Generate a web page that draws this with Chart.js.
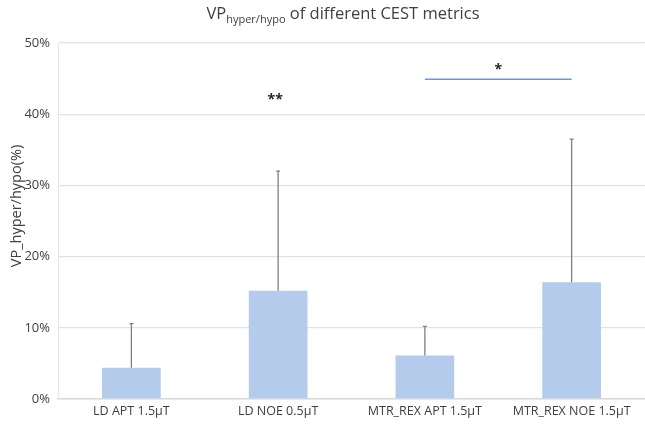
<!DOCTYPE html>
<html><head><meta charset="utf-8">
<script src="https://cdn.jsdelivr.net/npm/chart.js@4"></script>
<style>html,body{margin:0;padding:0;background:#fff}#wrap{width:645px;height:428px}</style>
</head><body><div id="wrap"><canvas id="c" width="645" height="428"></canvas></div>
<script>
const categories = ["LD APT 1.5\u00b5T", "LD NOE 0.5\u00b5T", "MTR_REX APT 1.5\u00b5T", "MTR_REX NOE 1.5\u00b5T"];
const means = [4.4, 15.2, 6.1, 16.4];
const errorUpper = [10.6, 32.0, 10.2, 36.5];
const yTicks = [0, 10, 20, 30, 40, 50];
const sigMarks = [{from: 1, to: 1, y: 42.5, text: "**", line: false}, {from: 2, to: 3, y: 44.9, text: "*", line: true}];

const FONT = "'Open Sans', 'Liberation Sans', sans-serif";

const overlay = {
  id: 'overlay',
  afterDatasetsDraw(chart) {
    const ctx = chart.ctx, x = chart.scales.x, y = chart.scales.y;
    ctx.save();
    // error bars
    ctx.strokeStyle = '#808080'; ctx.lineWidth = 1.3;
    means.forEach((m, i) => {
      const cx = x.getPixelForValue(i);
      const y0 = y.getPixelForValue(m), y1 = y.getPixelForValue(errorUpper[i]);
      ctx.beginPath(); ctx.moveTo(cx, y0); ctx.lineTo(cx, y1);
      ctx.moveTo(cx - 2, y1); ctx.lineTo(cx + 2, y1); ctx.stroke();
    });
    // significance marks
    sigMarks.forEach(s => {
      const xa = x.getPixelForValue(s.from), xb = x.getPixelForValue(s.to);
      const py = y.getPixelForValue(s.y);
      if (s.line) {
        ctx.strokeStyle = '#6f97cf'; ctx.lineWidth = 1.5;
        ctx.beginPath(); ctx.moveTo(xa, py); ctx.lineTo(xb, py); ctx.stroke();
      }
      ctx.fillStyle = '#222'; ctx.font = "bold 14px " + FONT;
      ctx.textAlign = 'center'; ctx.textBaseline = 'alphabetic';
      ctx.fillText(s.text, (xa + xb) / 2 - (s.line ? 0 : 3), s.line ? py - 5 : py + 8);
    });
    ctx.restore();
  },
  afterDraw(chart) {
    const ctx = chart.ctx;
    ctx.save();
    // title with subscript
    ctx.fillStyle = '#404040'; ctx.textBaseline = 'alphabetic';
    const f1 = "16.5px " + FONT, f2 = "11px " + FONT;
    const p1 = "VP", p2 = "hyper/hypo", p3 = " of different CEST metrics";
    ctx.font = f1; const w1 = ctx.measureText(p1).width, w3 = ctx.measureText(p3).width;
    ctx.font = f2; const w2 = ctx.measureText(p2).width;
    let sx = 343 - (w1 + w2 + w3) / 2; const by = 19;
    ctx.textAlign = 'left';
    ctx.font = f1; ctx.fillText(p1, sx, by); sx += w1;
    ctx.font = f2; ctx.fillText(p2, sx, by + 4); sx += w2;
    ctx.font = f1; ctx.fillText(p3, sx, by);
    // y axis title
    ctx.translate(17, 206); ctx.rotate(-Math.PI / 2);
    ctx.font = "14.5px " + FONT; ctx.textAlign = 'center'; ctx.textBaseline = 'middle';
    ctx.fillText("VP_hyper/hypo(%)", 0, 0);
    ctx.restore();
  }
};

new Chart(document.getElementById('c'), {
  type: 'bar',
  data: { labels: categories, datasets: [{ data: means, backgroundColor: '#b4cbeb', borderWidth: 0,
    categoryPercentage: 1.0, barPercentage: 0.4 }] },
  options: {
    responsive: false, animation: false, devicePixelRatio: 1,
    layout: { padding: { top: 43, right: 0, left: 0, bottom: 0 } },
    plugins: { legend: { display: false }, tooltip: { enabled: false }, title: { display: false } },
    scales: {
      x: {
        grid: { display: false, drawTicks: false },
        border: { color: '#d9d9d9', width: 1.5 },
        ticks: { color: '#404040', font: { family: FONT, size: 12.5 }, padding: 5, maxRotation: 0 },
        afterFit(s) { s.height = 29; }
      },
      y: {
        min: 0, max: 50,
        afterBuildTicks(s) { s.ticks = yTicks.map(v => ({ value: v })); },
        grid: { color: '#dae3f2', lineWidth: 1.3, drawTicks: false },
        border: { color: '#e4e8ee', width: 1 },
        ticks: { color: '#404040', font: { family: FONT, size: 13 }, padding: 8,
          callback: v => v + '%' },
        afterFit(s) { s.width = 58; }
      }
    }
  },
  plugins: [overlay]
});
</script>
</body></html>
